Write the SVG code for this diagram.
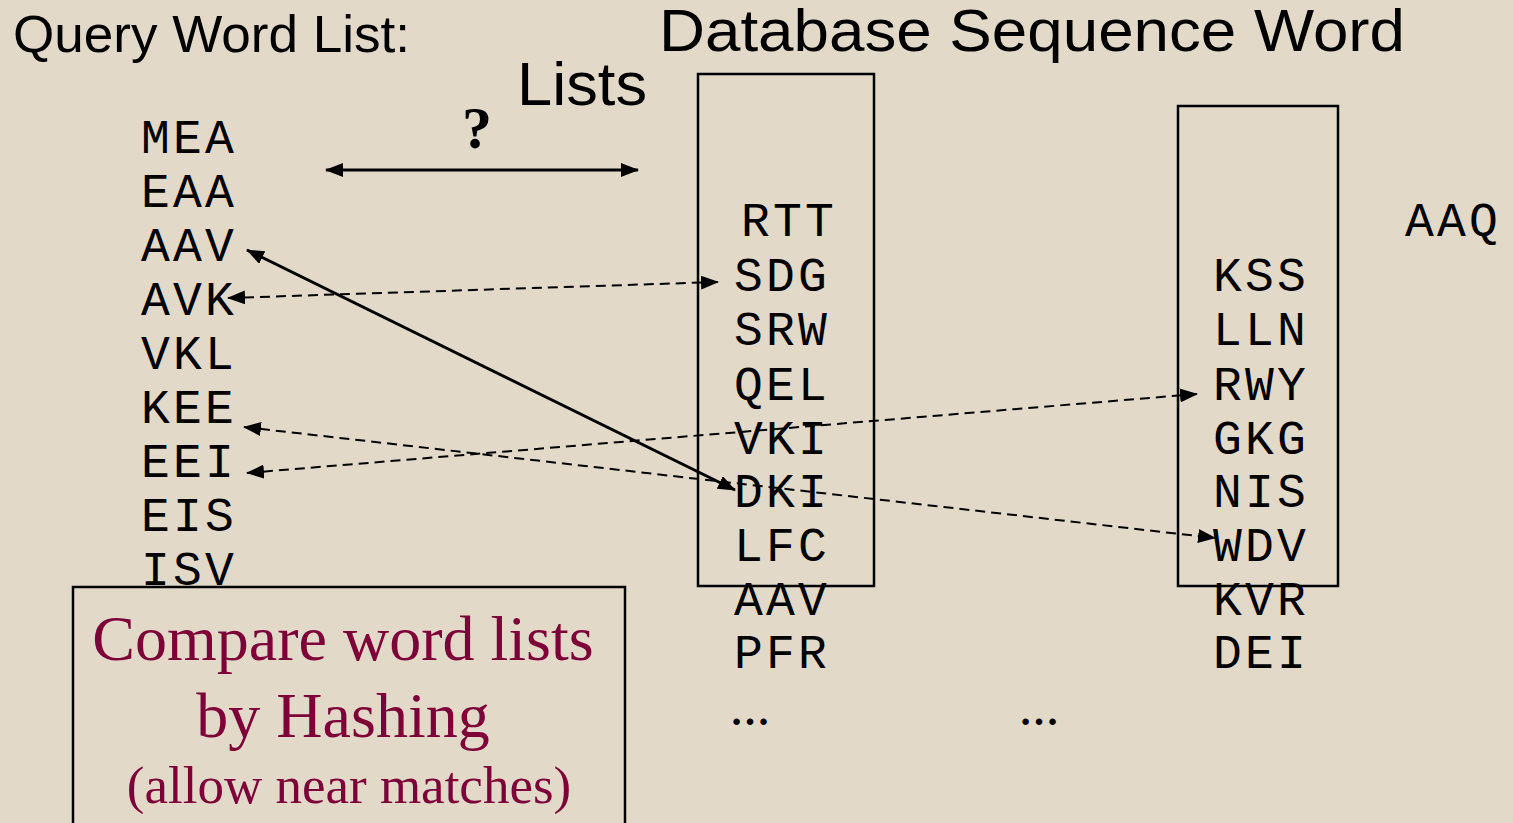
<svg xmlns="http://www.w3.org/2000/svg" width="1513" height="823" viewBox="0 0 1513 823">
<defs>
<marker id="ah" viewBox="0 0 18 14" refX="17" refY="7" markerWidth="18" markerHeight="14" markerUnits="userSpaceOnUse" orient="auto-start-reverse">
<path d="M0,0 L18,7 L0,14 Z" fill="#000"/>
</marker>
</defs>
<style>
.mono{font-family:"Liberation Mono","Courier New",monospace;font-size:48px;letter-spacing:3.2px;fill:#000}
.sans{font-family:"Liberation Sans",Arial,sans-serif;fill:#000}
.ser{font-family:"Liberation Serif","Times New Roman",serif;fill:#7d0038;text-anchor:middle}
.box{fill:none;stroke:#000;stroke-width:2.5}
.solid{fill:none;stroke:#000;stroke-width:3;marker-start:url(#ah);marker-end:url(#ah)}
.dash{fill:none;stroke:#000;stroke-width:2;stroke-dasharray:10 6;marker-start:url(#ah);marker-end:url(#ah)}
.dots{font-family:"Liberation Serif","Times New Roman",serif;font-weight:bold;font-size:40px;fill:#000}
</style>
<rect x="0" y="0" width="1513" height="823" fill="#e2d9c9"/>
<g id="titles">
<text class="sans" x="13" y="52" font-size="52" textLength="397" lengthAdjust="spacingAndGlyphs">Query Word List:</text>
<text class="sans" x="659" y="51" font-size="60" textLength="746" lengthAdjust="spacingAndGlyphs">Database Sequence Word</text>
<text class="sans" x="517" y="105" font-size="61" textLength="130" lengthAdjust="spacingAndGlyphs">Lists</text>
<text x="477" y="148" font-family="Liberation Serif,Times New Roman,serif" font-weight="bold" font-size="60" text-anchor="middle" fill="#000">?</text>
</g>
<g id="query-list">
<text class="mono" x="141" y="153">MEA</text>
<text class="mono" x="141" y="207">EAA</text>
<text class="mono" x="141" y="261">AAV</text>
<text class="mono" x="141" y="315">AVK</text>
<text class="mono" x="141" y="369">VKL</text>
<text class="mono" x="141" y="423">KEE</text>
<text class="mono" x="141" y="477">EEI</text>
<text class="mono" x="141" y="531">EIS</text>
<text class="mono" x="141" y="585">ISV</text>
</g>
<g id="db-list-1">
<rect class="box" x="698" y="74" width="176" height="512"/>
<text class="mono" x="741" y="236">RTT</text>
<text class="mono" x="734" y="291">SDG</text>
<text class="mono" x="734" y="345">SRW</text>
<text class="mono" x="734" y="400">QEL</text>
<text class="mono" x="734" y="454">VKI</text>
<text class="mono" x="734" y="507">DKI</text>
<text class="mono" x="734" y="561">LFC</text>
<text class="mono" x="734" y="615">AAV</text>
<text class="mono" x="734" y="668">PFR</text>
<text class="dots" x="730" y="725">…</text>
</g>
<g id="db-list-2">
<rect class="box" x="1178" y="106" width="160" height="480"/>
<text class="mono" x="1213" y="291">KSS</text>
<text class="mono" x="1213" y="345">LLN</text>
<text class="mono" x="1213" y="400">RWY</text>
<text class="mono" x="1213" y="454">GKG</text>
<text class="mono" x="1213" y="507">NIS</text>
<text class="mono" x="1213" y="561">WDV</text>
<text class="mono" x="1213" y="615">KVR</text>
<text class="mono" x="1213" y="668">DEI</text>
</g>
<g id="db-list-3">
<text class="dots" x="1019" y="725">…</text>
<text class="mono" x="1405" y="236">AAQ</text>
</g>
<g id="note">
<rect class="box" x="73" y="587" width="552" height="250"/>
<text class="ser" x="343" y="660" font-size="64">Compare word lists</text>
<text class="ser" x="343" y="737" font-size="64">by Hashing</text>
<text class="ser" x="349" y="803" font-size="53">(allow near matches)</text>
</g>
<g id="connectors">
<line class="solid" x1="326" y1="170" x2="638" y2="170"/>
<line class="solid" x1="247" y1="250" x2="735" y2="490"/>
<line class="dash" x1="228" y1="298" x2="718" y2="282"/>
<line class="dash" x1="244" y1="427" x2="1215" y2="538"/>
<line class="dash" x1="247" y1="473" x2="1197" y2="394"/>
</g>
</svg>
